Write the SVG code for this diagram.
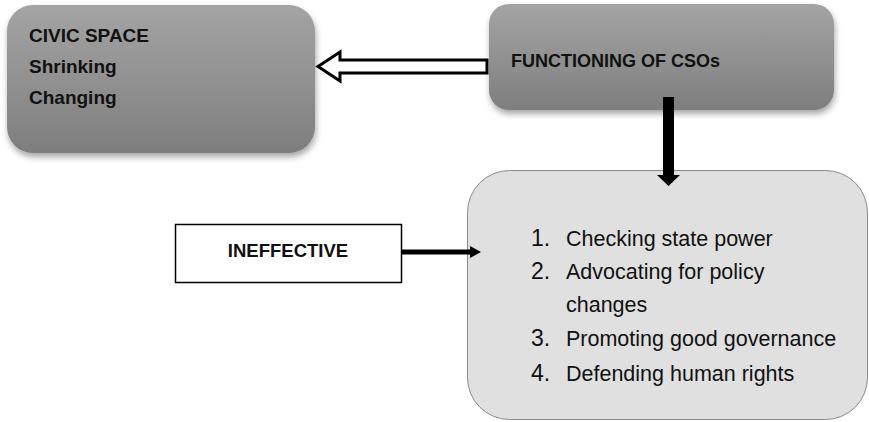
<svg xmlns="http://www.w3.org/2000/svg" width="869" height="422" viewBox="0 0 869 422">
<defs>
<linearGradient id="g" x1="0" y1="0" x2="0" y2="1">
<stop offset="0" stop-color="#a4a4a4"/>
<stop offset="1" stop-color="#7e7e7e"/>
</linearGradient>
<filter id="sh" x="-10%" y="-10%" width="125%" height="130%">
<feDropShadow dx="1" dy="4" stdDeviation="3" flood-color="#000" flood-opacity="0.35"/>
</filter>
<style>
.b{font-family:"Liberation Sans",Arial,sans-serif;font-weight:bold;fill:#111}
.r{font-family:"Liberation Sans",Arial,sans-serif;font-size:21.5px;fill:#111}
.n{font-family:"Liberation Sans",Arial,sans-serif;font-size:23px;fill:#111}
</style>
</defs>
<rect width="869" height="422" fill="#fff"/>
<g id="civic-space">
<rect x="7" y="5" width="308" height="148" rx="26" fill="url(#g)" filter="url(#sh)"/>
<text class="b" font-size="19" x="29" y="42">CIVIC SPACE</text>
<text class="b" font-size="19" x="29" y="73">Shrinking</text>
<text class="b" font-size="19" x="29" y="104">Changing</text>
</g>
<g id="functioning">
<rect x="489" y="4" width="345" height="106" rx="20" fill="url(#g)" filter="url(#sh)"/>
<text class="b" font-size="18" x="511" y="67">FUNCTIONING OF CSOs</text>
</g>
<g id="ineffective">
<rect x="175.5" y="224.5" width="226" height="58" fill="#fff" stroke="#000" stroke-width="1.5"/>
<text class="b" font-size="18.5" x="288" y="257" text-anchor="middle">INEFFECTIVE</text>
</g>
<g id="functions">
<rect x="467.5" y="170.5" width="400" height="249" rx="42" fill="#e0e0e0" stroke="#8a8a8a" stroke-width="1"/>
<text class="n" x="531" y="246">1.</text><text class="r" x="566" y="246">Checking state power</text>
<text class="n" x="531" y="279">2.</text><text class="r" x="566" y="279">Advocating for policy</text>
<text class="r" x="566" y="312">changes</text>
<text class="n" x="531" y="346">3.</text><text class="r" x="566" y="346">Promoting good governance</text>
<text class="n" x="531" y="381">4.</text><text class="r" x="566" y="381">Defending human rights</text>
</g>
<g id="connectors">
<polygon points="487,60 340,60 340,52 318,66.5 340,81 340,73 487,73" fill="#fff" stroke="#000" stroke-width="3" stroke-linejoin="miter"/>
<rect x="663" y="97" width="11" height="79" fill="#000"/>
<polygon points="657,175 680,175 668.5,186" fill="#000"/>
<line x1="402" y1="252" x2="472" y2="252" stroke="#000" stroke-width="5"/>
<polygon points="470,246 481,252 470,258" fill="#000"/>
</g>
</svg>
